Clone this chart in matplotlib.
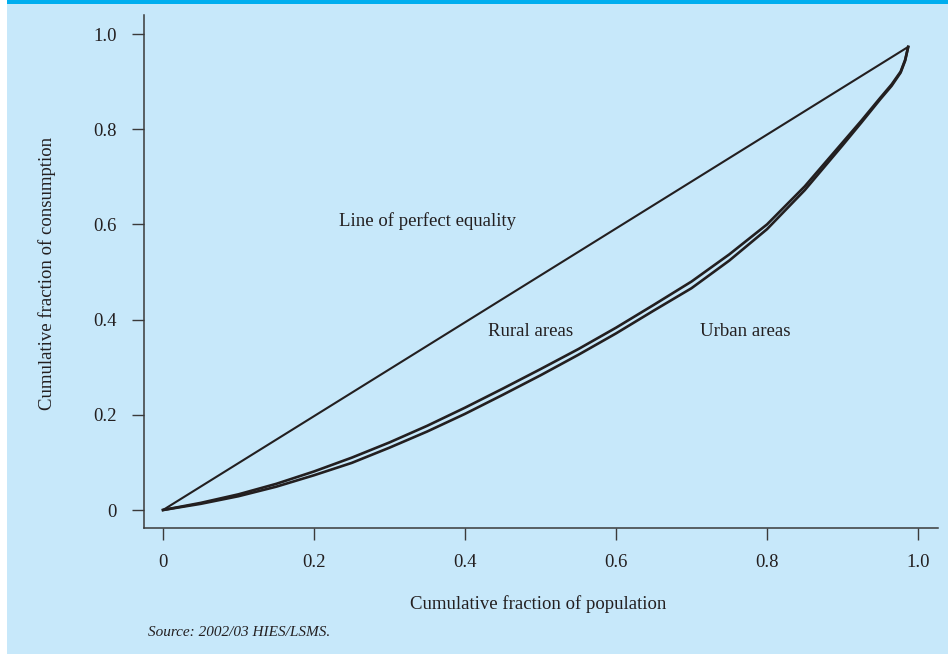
import matplotlib
matplotlib.use("Agg")
import matplotlib.pyplot as plt
from matplotlib.patches import Rectangle

# Data
pop_share = [0, 0.05, 0.10, 0.15, 0.20, 0.25, 0.30, 0.35, 0.40, 0.45, 0.50,
             0.55, 0.60, 0.65, 0.70, 0.75, 0.80, 0.85, 0.90, 0.925, 0.95,
             0.965, 0.977, 0.983, 0.987]
rural = [0, 0.015, 0.033, 0.055, 0.081, 0.110, 0.142, 0.177, 0.215, 0.255, 0.296,
         0.338, 0.383, 0.431, 0.480, 0.537, 0.600, 0.680, 0.772, 0.818, 0.866,
         0.894, 0.921, 0.946, 0.973]
urban = [0, 0.013, 0.029, 0.049, 0.073, 0.099, 0.131, 0.165, 0.202, 0.242, 0.283,
         0.326, 0.371, 0.419, 0.466, 0.524, 0.590, 0.672, 0.766, 0.814, 0.863,
         0.891, 0.919, 0.944, 0.973]
equality_x = [0, 0.987]
equality_y = [0, 0.973]

x_ticks = [0, 0.2, 0.4, 0.6, 0.8, 1.0]
x_ticklabels = ["0", "0.2", "0.4", "0.6", "0.8", "1.0"]
y_ticks = [0, 0.2, 0.4, 0.6, 0.8, 1.0]
y_ticklabels = ["0", "0.2", "0.4", "0.6", "0.8", "1.0"]

BG = "#C7E8FA"
BAND = "#00AEEF"
INK = "#231F20"

plt.rcParams['font.family'] = ['Liberation Serif', 'DejaVu Serif']

fig = plt.figure(figsize=(9.48, 6.54), dpi=100)
fig.patch.set_facecolor("white")
W, H = 948, 654
fig.patches.append(Rectangle((7 / W, 0), 1 - 7 / W, 1 - 3 / H, transform=fig.transFigure,
                             facecolor=BG, edgecolor="none", zorder=-10))
fig.patches.append(Rectangle((7 / W, 1 - 4 / H), 1 - 7 / W, 4 / H, transform=fig.transFigure,
                             facecolor=BAND, edgecolor="none", zorder=-9))

ax = fig.add_axes([144 / W, 1 - 528 / H, (938 - 144) / W, (528 - 15) / H])
ax.set_facecolor("none")

ax.plot(equality_x, equality_y, color=INK, lw=1.5, solid_capstyle="butt")
ax.plot(pop_share, rural, color=INK, lw=1.9, solid_joinstyle="round")
ax.plot(pop_share, urban, color=INK, lw=1.9, solid_joinstyle="round")

ax.set_xlim(-0.0252, 1.0265)
ax.set_ylim(-0.0378, 1.04)

for s in ["top", "right"]:
    ax.spines[s].set_visible(False)
for s in ["left", "bottom"]:
    ax.spines[s].set_color("#3a3a3a")
    ax.spines[s].set_linewidth(1.1)

ax.set_xticks(x_ticks)
ax.set_xticklabels(x_ticklabels)
ax.set_yticks(y_ticks)
ax.set_yticklabels(y_ticklabels)
ax.tick_params(axis="both", direction="out", length=8.5, width=1.0, color="#3a3a3a",
               labelsize=13.5, labelcolor=INK)
ax.tick_params(axis="x", pad=10)
ax.tick_params(axis="y", pad=11)

ax.text(0.35, 0.607, "Line of perfect equality", fontsize=13.5, color=INK,
        ha="center", va="center")
ax.text(0.487, 0.376, "Rural areas", fontsize=13.5, color=INK, ha="center", va="center")
ax.text(0.771, 0.376, "Urban areas", fontsize=13.5, color=INK, ha="center", va="center")

fig.text(538 / W, 1 - 604 / H, "Cumulative fraction of population", fontsize=13.5,
         color=INK, ha="center", va="center")
fig.text(47 / W, 1 - 273 / H, "Cumulative fraction of consumption", fontsize=13.5,
         color=INK, ha="center", va="center", rotation=90)
fig.text(148 / W, 1 - 633 / H, "Source: 2002/03 HIES/LSMS.", fontsize=11,
         color=INK, ha="left", va="center", style="italic")

fig.savefig("out.png", dpi=100, facecolor=fig.get_facecolor())
